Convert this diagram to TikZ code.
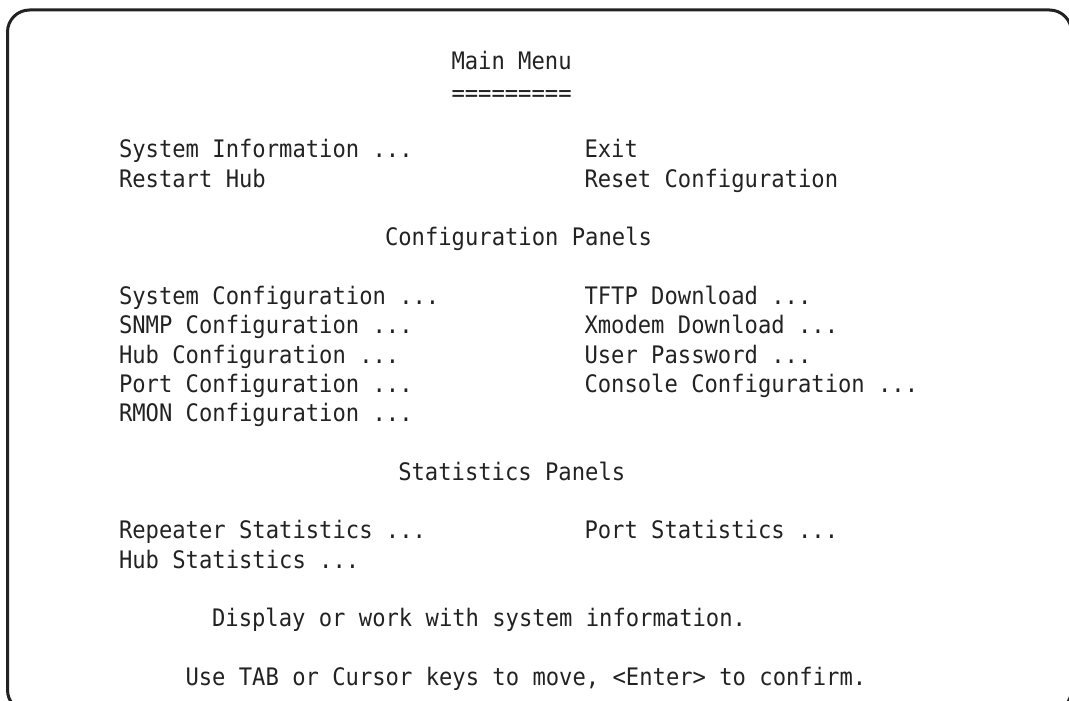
\documentclass[tikz,border=0pt]{standalone}
\usepackage{fontspec}
\newfontfamily\termfont[FakeStretch=0.92]{DejaVu Sans Mono}
\definecolor{ink}{HTML}{222222}
\newcommand{\cw}{13.3}  % character cell width
\newcommand{\lh}{29.3}  % line pitch
\begin{document}
\begin{tikzpicture}[x=1pt,y=-1pt,
  term/.style={font=\termfont\fontsize{24.1}{29}\selectfont, text=ink,
               anchor=base west, inner sep=0pt, outer sep=0pt},
  frame/.style={draw=ink, line width=3pt, rounded corners=22pt}]
  \useasboundingbox (0,0) rectangle (1069,701);
  \clip (0,0) rectangle (1069,701);
  % screen frame
  \draw[frame] (7.5,10) rectangle (1071.5,712);
  % screen text, placed on a character grid (column, line)
  \node[term] (title)  at ({119+25*\cw},{70+0*\lh}) {Main Menu};
  \node[term] (rule)   at ({119+25*\cw},{101.5}) {=========};
  \node[term] (sysinfo) at ({119+0*\cw},{70+3*\lh}) {System Information ...};
  \node[term] (exit)    at ({119+35*\cw},{70+3*\lh}) {Exit};
  \node[term] (restart) at ({119+0*\cw},{70+4*\lh}) {Restart Hub};
  \node[term] (reset)   at ({119+35*\cw},{70+4*\lh}) {Reset Configuration};
  \node[term] (cfghead) at ({119+20*\cw},{70+6*\lh}) {Configuration Panels};
  \node[term] (syscfg)  at ({119+0*\cw},{70+8*\lh}) {System Configuration ...};
  \node[term] (tftp)    at ({119+35*\cw},{70+8*\lh}) {TFTP Download ...};
  \node[term] (snmp)    at ({119+0*\cw},{70+9*\lh}) {SNMP Configuration ...};
  \node[term] (xmodem)  at ({119+35*\cw},{70+9*\lh}) {Xmodem Download ...};
  \node[term] (hubcfg)  at ({119+0*\cw},{70+10*\lh}) {Hub Configuration ...};
  \node[term] (passwd)  at ({119+35*\cw},{70+10*\lh}) {User Password ...};
  \node[term] (portcfg) at ({119+0*\cw},{70+11*\lh}) {Port Configuration ...};
  \node[term] (console) at ({119+35*\cw},{70+11*\lh}) {Console Configuration ...};
  \node[term] (rmon)    at ({119+0*\cw},{70+12*\lh}) {RMON Configuration ...};
  \node[term] (stathead) at ({119+21*\cw},{70+14*\lh}) {Statistics Panels};
  \node[term] (repstat) at ({119+0*\cw},{70+16*\lh}) {Repeater Statistics ...};
  \node[term] (portstat) at ({119+35*\cw},{70+16*\lh}) {Port Statistics ...};
  \node[term] (hubstat) at ({119+0*\cw},{70+17*\lh}) {Hub Statistics ...};
  \node[term] (help)    at ({119+7*\cw},{70+19*\lh}) {Display or work with system information.};
  \node[term] (keys)    at ({119+5*\cw},{70+21*\lh}) {Use TAB or Cursor keys to move, <Enter> to confirm.};
\end{tikzpicture}
\end{document}
